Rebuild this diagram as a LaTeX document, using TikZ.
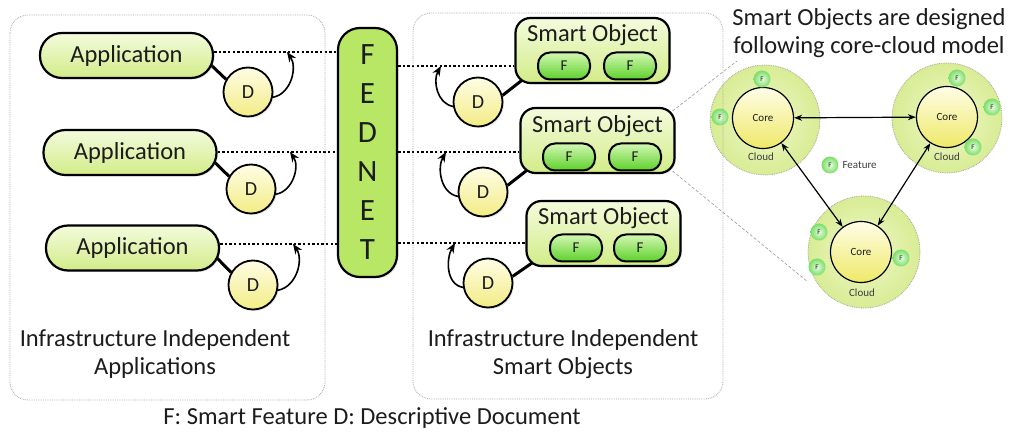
\documentclass[tikz,border=0pt]{standalone}
\usepackage{fontspec}
\setmainfont{Carlito}
\usetikzlibrary{arrows.meta,backgrounds,shadows}
\definecolor{textgray}{HTML}{1C1C1C}
\definecolor{appTop}{HTML}{F4FBDD}
\definecolor{appBot}{HTML}{D2EC88}
\definecolor{featTop}{HTML}{D4F8B4}
\definecolor{featBot}{HTML}{5CD02A}
\definecolor{docTop}{HTML}{FFFDE6}
\definecolor{docBot}{HTML}{F2EC84}
\definecolor{fednetgreen}{HTML}{B8E765}
\definecolor{cloudIn}{HTML}{F1F8CC}
\definecolor{cloudOut}{HTML}{D8EC94}
\definecolor{coreBot}{HTML}{EEE968}
\definecolor{dotIn}{HTML}{E8FCE0}
\definecolor{dotOut}{HTML}{7ADE66}

\begin{document}
\begin{tikzpicture}[x=1pt,y=1pt,>=Stealth,
	every node/.style={text=textgray},
	panel/.style={draw=gray!70, densely dotted, line width=0.8pt, rounded corners=18pt},
	appbox/.style={draw=black, line width=2.2pt, rounded corners=22pt, minimum width=173, minimum height=45,
		top color=appTop, bottom color=appBot, drop shadow={opacity=0.2,shadow xshift=1.5pt,shadow yshift=-1.5pt},
		font=\fontsize{24.5}{27}\selectfont},
	sobox/.style={draw=black, line width=2.2pt, rounded corners=15pt, minimum width=154, minimum height=65,
		top color=appTop, bottom color=appBot, drop shadow={opacity=0.2,shadow xshift=1.5pt,shadow yshift=-1.5pt}},
	sotitle/.style={font=\fontsize{24.5}{27}\selectfont, inner sep=0pt},
	featpill/.style={draw=black, line width=2pt, rounded corners=12pt, minimum width=52, minimum height=27,
		top color=featTop, bottom color=featBot, font=\fontsize{15}{17}\selectfont, inner sep=0pt},
	docnode/.style={circle, draw=black, line width=1.8pt, minimum size=49, inner sep=0pt,
		top color=docTop, bottom color=docBot, drop shadow={opacity=0.2,shadow xshift=1.5pt,shadow yshift=-1.5pt},
		font=\fontsize{20}{22}\selectfont},
	fednetbox/.style={draw=black, line width=2.2pt, rounded corners=22pt, minimum width=59, minimum height=249,
		fill=fednetgreen, align=center, font=\fontsize{31}{39}\selectfont,
		drop shadow={opacity=0.2,shadow xshift=1.5pt,shadow yshift=-1.5pt}},
	link/.style={line width=2.4pt, dash pattern=on 2.4pt off 2.2pt},
	bond/.style={line width=3pt},
	looparrow/.style={->, line width=1.6pt, >={Stealth[length=10pt,width=8pt]}},
	cloudnode/.style={circle, draw=gray!70, densely dotted, line width=0.8pt, inner color=cloudIn, outer color=cloudOut},
	corenode/.style={circle, draw=black, line width=1.2pt, minimum size=61, inner sep=0pt,
		top color=docTop, bottom color=coreBot, font=\fontsize{11}{12}\selectfont},
	smalltext/.style={font=\fontsize{11}{12}\selectfont, text=textgray!85},
	featdot/.style={circle, minimum size=17, inner sep=0pt, inner color=dotIn, outer color=dotOut,
		font=\fontsize{7}{8}\selectfont},
	corearrow/.style={<->, line width=1.2pt, >={Stealth[length=8pt,width=6pt]}},
	zoomline/.style={draw=gray!80, densely dashed, line width=0.6pt},
	label/.style={font=\fontsize{24.5}{28}\selectfont, align=center}
]
\useasboundingbox (0,0) rectangle (1010,-435);

% applications side
\node[appbox] (app1) at (126.5,-55.5) {Application};
\node[appbox] (app2) at (130,-152.5) {Application};
\node[appbox] (app3) at (132.5,-248) {Application};
\node[docnode] (doc1) at (248,-92) {D};
\node[docnode] (doc2) at (251,-189) {D};
\node[docnode] (doc3) at (253,-285) {D};

% FEDNET
\node[fednetbox] (fednet) at (367.5,-152.5) {F\\E\\D\\N\\E\\T};

% smart objects side
\node[sobox] (so1) at (592.5,-50.5) {};
\node[sotitle] (so1t) at (592.5,-35) {Smart Object};
\node[featpill] (f11) at (564,-66) {F};	\node[featpill] (f12) at (630,-66) {F};
\node[sobox] (so2) at (597.5,-140.5) {};
\node[sotitle] (so2t) at (597.5,-126) {Smart Object};
\node[featpill] (f21) at (569,-157) {F};	\node[featpill] (f22) at (635,-157) {F};
\node[sobox] (so3) at (603.5,-233.5) {};
\node[sotitle] (so3t) at (603.5,-218) {Smart Object};
\node[featpill] (f31) at (576,-248) {F};	\node[featpill] (f32) at (640,-248) {F};
\node[docnode] (docr1) at (478,-102) {D};
\node[docnode] (docr2) at (483,-192) {D};
\node[docnode] (docr3) at (488,-283) {D};

% arrow ends on the dotted links
\coordinate (tip1) at (287,-52);	\coordinate (tip2) at (290,-152);	\coordinate (tip3) at (293,-244);
\coordinate (tipr1) at (441,-66);	\coordinate (tipr2) at (446,-152);	\coordinate (tipr3) at (455,-243);

\begin{scope}[on background layer]
	\draw[bond] (doc1.150) -- ([xshift=-13]app1.east);
	\draw[bond] (doc2.150) -- ([xshift=-13]app2.east);
	\draw[bond] (doc3.150) -- ([xshift=-13]app3.east);
	\draw[bond] (docr1.15) -- ([shift={(18,12)}]so1.south west);
	\draw[bond] (docr2.15) -- ([shift={(18,12)}]so2.south west);
	\draw[bond] (docr3.15) -- ([shift={(18,12)}]so3.south west);
\end{scope}

\draw[link] (app1.east |- tip1) -- (fednet.west |- tip1);
\draw[link] (app2.east |- tip2) -- (fednet.west |- tip2);
\draw[link] (app3.east |- tip3) -- (fednet.west |- tip3);
\draw[link] (fednet.east |- tipr1) -- (so1.west |- tipr1);
\draw[link] (fednet.east |- tipr2) -- (so2.west |- tipr2);
\draw[link] (fednet.east |- tipr3) -- (so3.west |- tipr3);

\draw[looparrow] (doc1.-12) to[out=10,in=-55] (tip1);
\draw[looparrow] (doc2.-12) to[out=10,in=-55] (tip2);
\draw[looparrow] (doc3.-12) to[out=10,in=-55] (tip3);
\draw[looparrow] (docr1.190) to[out=170,in=-120] (tipr1);
\draw[looparrow] (docr2.190) to[out=170,in=-120] (tipr2);
\draw[looparrow] (docr3.190) to[out=170,in=-120] (tipr3);

% zoom onto the core-cloud model
\coordinate (zoomtop) at (737,-61);
\coordinate (zoombot) at (808,-282);
\draw[zoomline] (so2.north east) ++(-3,-4) -- (zoomtop);
\draw[zoomline] (so2.south east) ++(-3,3) -- (zoombot);

\node[cloudnode, minimum size=110] (cloud1) at (765,-120) {};
\node[cloudnode, minimum size=110] (cloud2) at (947,-118) {};
\node[cloudnode, minimum size=112] (cloud3) at (864,-252) {};
\node[corenode] (core1) at (763,-118) {Core};
\node[corenode] (core2) at (947,-117) {Core};
\node[corenode] (core3) at (861,-252) {Core};
\node[smalltext] (cl1) at (761,-157) {Cloud};
\node[smalltext] (cl2) at (947,-157) {Cloud};
\node[smalltext] (cl3) at (862,-293) {Cloud};
\node[featdot] (fa1) at (762,-79) {F};	\node[featdot] (fa2) at (720,-117) {F};
\node[featdot] (fb1) at (957,-78) {F};	\node[featdot] (fb2) at (992,-107) {F};	\node[featdot] (fb3) at (973,-147) {F};
\node[featdot] (fc1) at (819,-232) {F};	\node[featdot] (fc2) at (817,-267) {F};	\node[featdot] (fc3) at (901,-258) {F};
\node[featdot] (flegend) at (830,-165) {F};
\node[smalltext, anchor=west] (featlabel) at (839,-165) {Feature};
\draw[corearrow] (core1) -- (core2);
\draw[corearrow] (core1) -- (core3);
\draw[corearrow] (core2) -- (core3);

% panels and texts
\draw[panel] (10,-15) rectangle (325,-400);
\draw[panel] (413,-13) rectangle (723,-399);
\node[label] (applabel) at (155,-354) {Infrastructure Independent\\Applications};
\node[label] (solabel) at (563,-354) {Infrastructure Independent\\Smart Objects};
\node[label] (modellabel) at (869,-33) {Smart Objects are designed\\following core-cloud model};
\node[label] (caption) at (372,-418) {F: Smart Feature D: Descriptive Document};
\end{tikzpicture}
\end{document}
